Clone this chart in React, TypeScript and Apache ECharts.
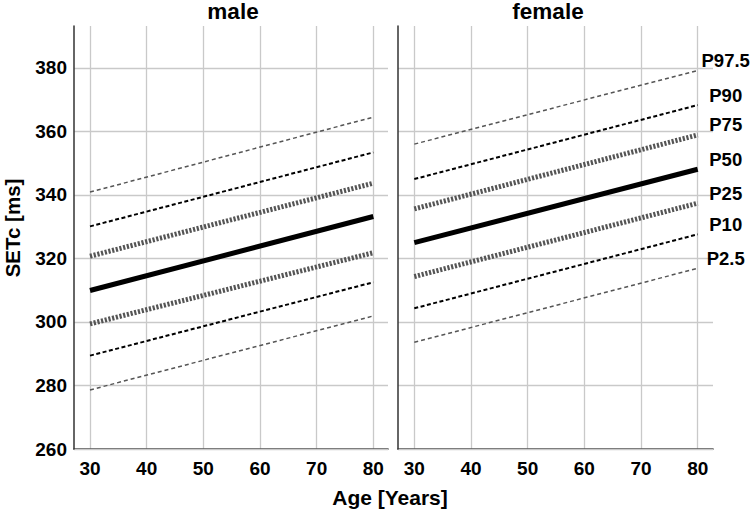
import React, { useEffect, useRef } from "react";
import * as echarts from "echarts";

// ---- data ----
const ages = [30, 80];
const percentiles = ["P97.5", "P90", "P75", "P50", "P25", "P10", "P2.5"];
const maleP975 = [340.9, 364.5];
const maleP90 = [330.1, 353.4];
const maleP75 = [320.7, 343.7];
const maleP50 = [309.9, 333.2];
const maleP25 = [299.4, 321.8];
const maleP10 = [289.4, 312.5];
const maleP2_5 = [278.6, 301.9];
const femaleP975 = [356.0, 379.2];
const femaleP90 = [345.0, 368.3];
const femaleP75 = [335.6, 358.9];
const femaleP50 = [325.0, 348.1];
const femaleP25 = [314.3, 337.4];
const femaleP10 = [304.3, 327.6];
const femaleP2_5 = [293.6, 316.9];
const panels = ["male", "female"];
const yMin = 260;
const yMax = 393.2;
const yStep = 20;
const xMin = 30;
const xMax = 80;
const xStep = 10;

const maleSets = [maleP975, maleP90, maleP75, maleP50, maleP25, maleP10, maleP2_5];
const femaleSets = [femaleP975, femaleP90, femaleP75, femaleP50, femaleP25, femaleP10, femaleP2_5];

const FONT = "'Liberation Sans', Arial, sans-serif";

const styles: any[] = [
  { color: "#555", width: 1.5, type: [4, 3] },
  { color: "#000", width: 2, type: [4, 2.5] },
  { color: "#555", width: 5, type: [2.2, 1.6] },
  { color: "#000", width: 5, type: "solid" },
  { color: "#555", width: 5, type: [2.2, 1.6] },
  { color: "#000", width: 2, type: [4, 2.5] },
  { color: "#555", width: 1.5, type: [4, 3] },
];

export default function App() {
  const ref = useRef<HTMLDivElement>(null);
  useEffect(() => {
    const chart = echarts.init(ref.current!, null, { renderer: "svg" });
    const top = 26;
    const height = 423;
    const grids = [
      { left: 74, top, width: 314, height },
      { left: 90, top, width: 283.3, height },
      { left: 398, top, width: 315, height },
      { left: 414.3, top, width: 283.4, height },
    ];
    const nSplit = Math.floor((yMax - yMin) / yStep) + 1;
    const splitColors: string[] = [];
    for (let i = 0; i < nSplit; i++) splitColors.push("#c9c9c9");
    splitColors.push("rgba(0,0,0,0)");

    const xAxis: any[] = [];
    const yAxis: any[] = [];
    [0, 2].forEach((g, k) => {
      xAxis[g] = {
        gridIndex: g, type: "value", min: 0, max: 1,
        axisLine: { show: true, onZero: false, lineStyle: { color: "#333", width: 1.5 } },
        axisTick: { show: false }, axisLabel: { show: false }, splitLine: { show: false },
      };
      yAxis[g] = {
        gridIndex: g, type: "value", min: yMin, max: yMax, interval: yStep,
        axisLine: { show: true, lineStyle: { color: "#333", width: 1.5 } },
        axisTick: { show: false },
        axisLabel: {
          show: k === 0, margin: 7, color: "#000", fontSize: 19, fontWeight: "bold", fontFamily: FONT,
          formatter: (v: number) => (Math.abs(v % yStep) < 1e-6 ? String(v) : ""),
        },
        splitLine: { show: true, lineStyle: { color: splitColors, width: 1.3 } },
        z: 1,
      };
      xAxis[g + 1] = {
        gridIndex: g + 1, type: "value", min: xMin, max: xMax, interval: xStep,
        axisLine: { show: false }, axisTick: { show: false },
        axisLabel: { margin: 10, color: "#000", fontSize: 19, fontWeight: "bold", fontFamily: FONT },
        splitLine: { show: true, lineStyle: { color: "#c9c9c9", width: 1.3 } },
      };
      yAxis[g + 1] = {
        gridIndex: g + 1, type: "value", min: yMin, max: yMax, show: false,
        splitLine: { show: false },
      };
    });

    const series: any[] = [];
    [maleSets, femaleSets].forEach((sets, p) => {
      sets.forEach((vals, i) => {
        series.push({
          type: "line",
          name: percentiles[i],
          xAxisIndex: p * 2 + 1,
          yAxisIndex: p * 2 + 1,
          data: ages.map((a, j) => [a, vals[j]]),
          showSymbol: false,
          symbol: "none",
          lineStyle: { ...styles[i], cap: "butt" },
          z: 3,
          endLabel: p === 1 ? {
            show: true,
            formatter: "{a}",
            color: "#000",
            fontSize: 18.5,
            fontWeight: "bold",
            fontFamily: FONT,
            distance: 0,
            align: "center",
            offset: [28, -10],
          } : { show: false },
        });
      });
    });

    chart.setOption({
      animation: false,
      backgroundColor: "#fff",
      grid: grids,
      xAxis,
      yAxis,
      series,
      graphic: [
        { type: "text", x: 233, y: 11, style: { text: panels[0], font: `bold 22.5px ${FONT}`, fill: "#000", align: "center", verticalAlign: "middle" } },
        { type: "text", x: 548, y: 11, style: { text: panels[1], font: `bold 22.5px ${FONT}`, fill: "#000", align: "center", verticalAlign: "middle" } },
        { type: "text", x: 12, y: 228, rotation: Math.PI / 2, style: { text: "SETc [ms]", font: `bold 20.5px ${FONT}`, fill: "#000", align: "center", verticalAlign: "middle" } },
        { type: "text", x: 390, y: 497, style: { text: "Age [Years]", font: `bold 21px ${FONT}`, fill: "#000", align: "center", verticalAlign: "middle" } },
      ],
    });
    return () => chart.dispose();
  }, []);
  return <div ref={ref} style={{ width: 751, height: 515, position: "absolute", left: 0, top: 0 }} />;
}
